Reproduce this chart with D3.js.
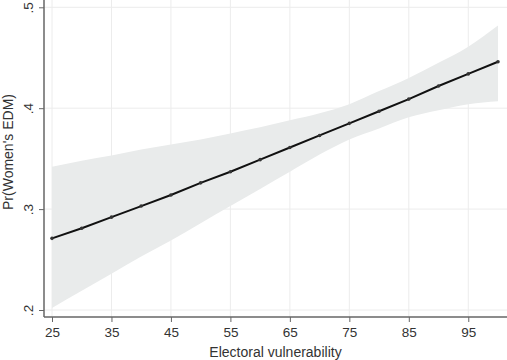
<!DOCTYPE html>
<html>
<head>
<meta charset="utf-8">
<script src="https://cdn.jsdelivr.net/npm/d3@7"></script>
<style>
  body { margin: 0; background: #fff; }
  svg { display: block; font-family: "Liberation Sans", Arial, sans-serif; }
</style>
</head>
<body>
<svg id="chart" width="507" height="360"></svg>
<script>
// electoral vulnerability values, predicted probability and 95% CI
const vulnerability = [25, 30, 35, 40, 45, 50, 55, 60, 65, 70, 75, 80, 85, 90, 95, 100];
const prWomenEDM = [0.271, 0.281, 0.292, 0.303, 0.314, 0.326, 0.337, 0.349, 0.361, 0.373, 0.385, 0.397, 0.409, 0.422, 0.434, 0.446];
const ciUpper = [0.342, 0.348, 0.353, 0.359, 0.364, 0.369, 0.375, 0.381, 0.388, 0.395, 0.404, 0.417, 0.430, 0.445, 0.461, 0.482];
const ciLower = [0.202, 0.219, 0.236, 0.253, 0.269, 0.286, 0.303, 0.320, 0.337, 0.354, 0.369, 0.380, 0.391, 0.398, 0.404, 0.407];
const xTicks = [25, 35, 45, 55, 65, 75, 85, 95];
const yTicks = [0.2, 0.3, 0.4, 0.5];

const svg = d3.select("#chart");
const plot = { left: 44, right: 507, top: 0, bottom: 317 };

const x = d3.scaleLinear().domain([25, 100]).range([52, 498]);
const y = d3.scaleLinear().domain([0.2, 0.5]).range([310, 7.3]);

const data = vulnerability.map((v, i) => ({
  v: v, p: prWomenEDM[i], lo: ciLower[i], hi: ciUpper[i]
}));

const GRID = "#ececec";
const BAND = "#e9ebeb";
const TEXT = "#333";

// gridlines
svg.append("g")
  .selectAll("line.h")
  .data(yTicks)
  .enter()
  .append("line")
  .attr("x1", plot.left).attr("x2", plot.right)
  .attr("y1", (d) => y(d)).attr("y2", (d) => y(d))
  .attr("stroke", GRID).attr("stroke-width", 1);

svg.append("g")
  .selectAll("line.v")
  .data(xTicks)
  .enter()
  .append("line")
  .attr("x1", (d) => x(d)).attr("x2", (d) => x(d))
  .attr("y1", plot.top).attr("y2", plot.bottom)
  .attr("stroke", GRID).attr("stroke-width", 1);

// CI band
const band = d3.area()
  .curve(d3.curveMonotoneX)
  .x((d) => x(d.v))
  .y0((d) => y(d.lo))
  .y1((d) => y(d.hi));

svg.append("path")
  .datum(data)
  .attr("d", band)
  .attr("fill", BAND);

// prediction line
const line = d3.line()
  .x((d) => x(d.v))
  .y((d) => y(d.p));

svg.append("path")
  .datum(data)
  .attr("d", line)
  .attr("fill", "none")
  .attr("stroke", "#111")
  .attr("stroke-width", 2);

svg.append("g")
  .selectAll("circle")
  .data(data)
  .enter()
  .append("circle")
  .attr("cx", (d) => x(d.v))
  .attr("cy", (d) => y(d.p))
  .attr("r", 1.8)
  .attr("fill", "#333");

// axes
const xAxis = d3.axisBottom(x).tickValues(xTicks).tickSize(5).tickSizeOuter(0);
const yAxis = d3.axisLeft(y).tickValues(yTicks).tickSize(5).tickSizeOuter(0)
  .tickFormat((d) => d3.format(".1f")(d).replace(/^0/, ""));

const gx = svg.append("g")
  .attr("transform", `translate(0, ${plot.bottom})`)
  .call(xAxis);
gx.select(".domain").remove();
gx.append("line")
  .attr("x1", plot.left).attr("x2", plot.right)
  .attr("stroke", "#666").attr("stroke-width", 1.5);
gx.selectAll(".tick line").attr("stroke", "#666");
gx.selectAll(".tick text")
  .attr("fill", TEXT)
  .attr("font-size", 13.5)
  .attr("font-family", "Liberation Sans, Arial, sans-serif")
  .attr("dy", "0.9em");

const gy = svg.append("g")
  .attr("transform", `translate(${plot.left}, 0)`)
  .call(yAxis);
gy.select(".domain").remove();
gy.append("line")
  .attr("y1", plot.top).attr("y2", plot.bottom)
  .attr("stroke", "#666").attr("stroke-width", 1.5);
gy.selectAll(".tick line").attr("stroke", "#666");
gy.selectAll(".tick text")
  .attr("fill", TEXT)
  .attr("font-size", 13.5)
  .attr("font-family", "Liberation Sans, Arial, sans-serif")
  .attr("x", null).attr("dy", null)
  .attr("text-anchor", "middle")
  .attr("transform", "translate(-11, 0) rotate(-90)");

// titles
svg.append("text")
  .attr("x", (plot.left + plot.right) / 2)
  .attr("y", 357)
  .attr("text-anchor", "middle")
  .attr("font-size", 14)
  .attr("fill", TEXT)
  .text("Electoral vulnerability");

svg.append("text")
  .attr("transform", "translate(13, 152) rotate(-90)")
  .attr("text-anchor", "middle")
  .attr("font-size", 14)
  .attr("fill", TEXT)
  .text("Pr(Women's EDM)");
</script>
</body>
</html>
